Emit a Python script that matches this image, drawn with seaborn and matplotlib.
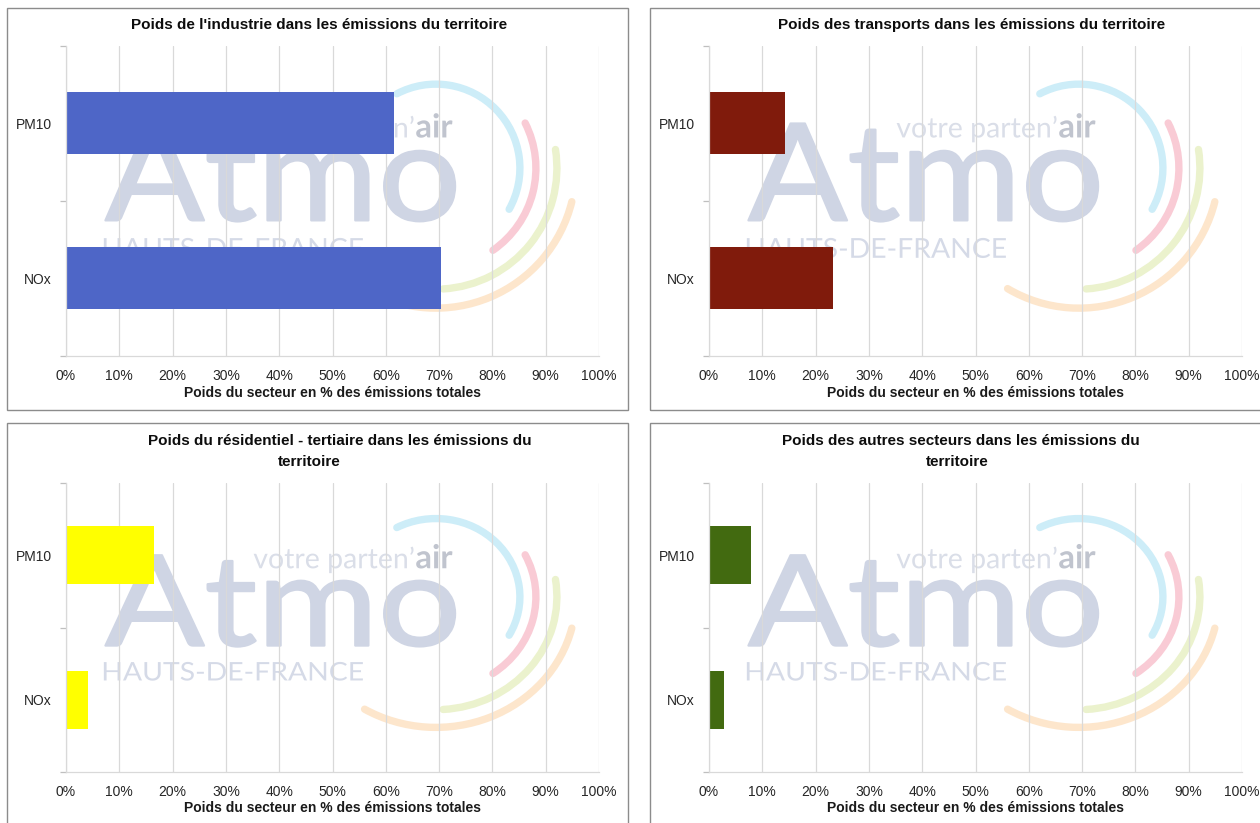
import matplotlib
matplotlib.use("Agg")
import matplotlib.pyplot as plt
import seaborn as sns
import pandas as pd
from matplotlib.patches import Rectangle, Arc, PathPatch
from matplotlib.textpath import TextPath
from matplotlib.font_manager import FontProperties
from matplotlib.transforms import Affine2D
from matplotlib.ticker import FixedLocator

# --- data -------------------------------------------------------------
categories = ["PM10", "NOx"]
industrie = [61.6, 70.3]
transports = [14.3, 23.2]
residentiel = [16.6, 4.1]
autres = [7.9, 2.9]

x_ticks = [0, 10, 20, 30, 40, 50, 60, 70, 80, 90, 100]
x_tick_labels = [f"{v}%" for v in x_ticks]
x_label = "Poids du secteur en % des émissions totales"

titles = [
    ["Poids de l'industrie dans les émissions du territoire"],
    ["Poids des transports dans les émissions du territoire"],
    ["Poids du résidentiel - tertiaire dans les émissions du", "territoire"],
    ["Poids des autres secteurs dans les émissions du", "territoire"],
]
bar_colors = ["#4E66C7", "#801B0C", "#FFFF00", "#426A10"]
series = [industrie, transports, residentiel, autres]

# --- style ------------------------------------------------------------
sns.set_theme(style="whitegrid")
plt.rcParams["font.family"] = ["Liberation Sans", "DejaVu Sans"]

W, H, DPI = 1260, 823, 100
fig = plt.figure(figsize=(W / DPI, H / DPI), dpi=DPI, facecolor="white")

def fx(px):
    return px / W

def fy(py):
    return 1 - py / H

# panel frames (left, top, right, bottom) in pixels
frames = [(7, 8, 628, 410), (650, 8, 1275, 410), (7, 423, 628, 830), (650, 423, 1275, 830)]
for l, t, r, b in frames:
    fig.add_artist(Rectangle((fx(l), fy(b)), fx(r - l), (b - t) / H,
                             transform=fig.transFigure, fill=False,
                             ec="#8c8c8c", lw=1.0))

# plot areas (left, top, right, bottom) in pixels
areas = [(66, 46, 599, 356), (709, 46, 1242, 356), (66, 483, 599, 772), (709, 483, 1242, 772)]
title_pos = [[(319, 25)], [(972, 25)], [(340, 441), (309, 462)], [(961, 441), (957, 462)]]


def text_in_box(ax, s, box, weight, color, stroke=0.0, family="Lato"):
    """Draw text as a path stretched to fill a box given in axes fractions."""
    tp = TextPath((0, 0), s, size=100, prop=FontProperties(family=family, weight=weight))
    ext = tp.get_extents()
    x0, x1, y0, y1 = box
    tr = (Affine2D().translate(-ext.x0, -ext.y0)
          .scale((x1 - x0) / ext.width, (y1 - y0) / ext.height)
          .translate(x0, y0) + ax.transAxes)
    ax.add_patch(PathPatch(tp, transform=tr, fc=color, ec=color if stroke else "none",
                           lw=stroke, joinstyle="round", zorder=0.2))


def text_on_baseline(ax, s, x0, x1, ybase, weight, color, wpx, hpx, family="Lato"):
    """Draw text as a path scaled uniformly to span x0..x1, sitting on ybase."""
    tp = TextPath((0, 0), s, size=100, prop=FontProperties(family=family, weight=weight))
    ext = tp.get_extents()
    k = (x1 - x0) * wpx / ext.width
    tr = (Affine2D().translate(-ext.x0, 0).scale(k / wpx, k / hpx)
          .translate(x0, ybase) + ax.transAxes)
    ax.add_patch(PathPatch(tp, transform=tr, fc=color, ec="none", zorder=0.2))


def watermark(ax, wpx, hpx):
    text_in_box(ax, "Atmo", (0.074, 0.730, 0.434, 0.750), "normal", "#cfd5e4", stroke=1.6)
    text_in_box(ax, "HAUTS-DE-FRANCE", (0.071, 0.557, 0.316, 0.381), "normal", "#d5dae7")
    text_on_baseline(ax, "votre parten\u2019", 0.352, 0.652, 0.705, "normal", "#dadee8", wpx, hpx)
    text_on_baseline(ax, "air", 0.657, 0.725, 0.705, "bold", "#c0c4ce", wpx, hpx)
    cx, cy = 0.694, 0.606
    rings = [(84, -44, 107, "#cdedf8"), (100, -68, 41, "#f9cbd5"),
             (121, -88, 15, "#ebf2cd"), (140, -109, -23, "#fde6cc")]
    for r, a0, a1, col in rings:
        ax.add_patch(Arc((cx, cy), 2 * r / 533, 2 * r / 310, theta1=a0, theta2=a1,
                         transform=ax.transAxes, color=col, lw=5.3,
                         capstyle="round", zorder=0.2))


for i, (l, t, r, b) in enumerate(areas):
    ax = fig.add_axes([fx(l), fy(b), (r - l) / W, (b - t) / H])
    wpx, hpx = r - l, b - t
    df = pd.DataFrame({"polluant": categories, "part": series[i]})
    sns.barplot(data=df, x="part", y="polluant", orient="h", color=bar_colors[i],
                width=0.4, linewidth=0, saturation=1, ax=ax, zorder=2)
    watermark(ax, wpx, hpx)

    ax.set_xlim(0, 100)
    ax.set_ylim(1.5, -0.5)
    ax.set_xticks(x_ticks)
    ax.set_xticklabels(x_tick_labels)
    ax.grid(axis="x", color="#d9d9d9", lw=0.9)
    ax.grid(axis="y", visible=False)
    ax.set_axisbelow(True)
    for side in ("top", "right"):
        ax.spines[side].set_visible(False)
    for side in ("left", "bottom"):
        ax.spines[side].set_color("#d9d9d9")
        ax.spines[side].set_linewidth(0.9)

    ax.tick_params(axis="x", length=0, pad=9.5, labelsize=10, labelcolor="#262626")
    ax.tick_params(axis="y", which="major", length=0, pad=10, labelsize=10, labelcolor="#262626")
    ax.yaxis.set_minor_locator(FixedLocator([-0.5, 0.5, 1.5]))
    ax.tick_params(axis="y", which="minor", left=True, length=4, width=0.9,
                   color="#bfbfbf", direction="out")

    ax.set_ylabel("")
    ax.set_xlabel(x_label, fontsize=10, fontweight="bold", color="#1a1a1a")
    ax.xaxis.label.set_va("center")
    ax.xaxis.set_label_coords(0.5, -(37 if i < 2 else 36) / hpx)

    for line, (tx, ty) in zip(titles[i], title_pos[i]):
        fig.text(fx(tx), fy(ty), line, ha="center", va="center",
                 fontsize=11, fontweight="bold", color="#0d0d0d")

fig.savefig("out.png", dpi=DPI, facecolor="white")
